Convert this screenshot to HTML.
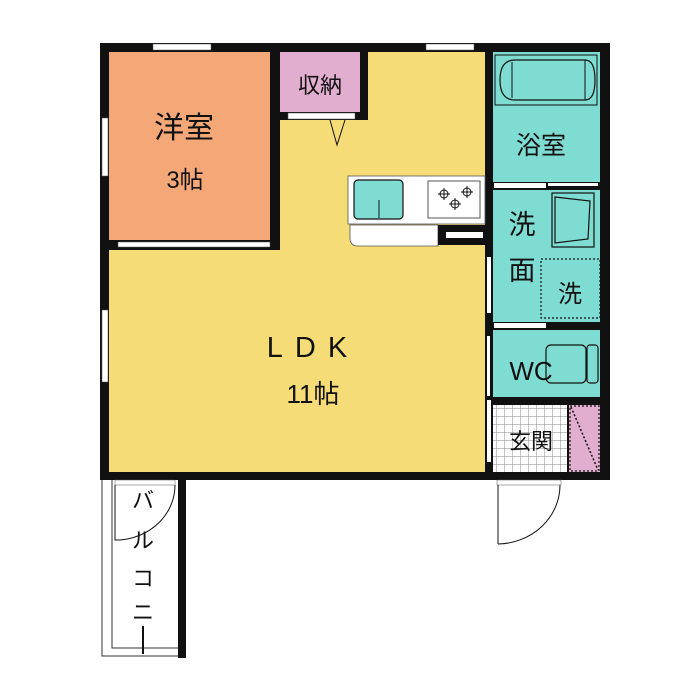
<!DOCTYPE html>
<html><head><meta charset="utf-8"><style>
html,body{margin:0;padding:0;background:#fff;width:700px;height:700px;overflow:hidden}
text{font-family:"Liberation Sans","Noto Sans CJK JP",sans-serif;fill:#111}
</style></head><body>
<svg width="700" height="700" viewBox="0 0 700 700" xmlns="http://www.w3.org/2000/svg">
<defs>
<pattern id="grid" width="8" height="8" patternUnits="userSpaceOnUse">
<rect width="8" height="8" fill="#fff"/><path d="M0 0H8M0 0V8" stroke="#888" stroke-width="1"/>
</pattern>
</defs>
<rect x="100" y="43" width="510" height="437" fill="#111"/>
<rect x="109" y="52" width="376" height="420" fill="#f6dc76"/>
<rect x="109" y="52" width="161" height="188" fill="#f4a877"/>
<rect x="270" y="52" width="10" height="198" fill="#111"/>
<rect x="109" y="240" width="171" height="10" fill="#111"/>
<rect x="118" y="242" width="152" height="5" fill="#fff" stroke="#555" stroke-width="0.5"/>
<rect x="280" y="52" width="88" height="68" fill="#111"/>
<rect x="280" y="52" width="80" height="60" fill="#e2aed0"/>
<rect x="288" y="113" width="67" height="6" fill="#fff" stroke="#555" stroke-width="0.5"/>
<path d="M330 120 L337 145 L345 120" fill="none" stroke="#111" stroke-width="1"/>
<rect x="485" y="43" width="8" height="437" fill="#111"/>
<rect x="493" y="52" width="107" height="130" fill="#7fdcd2"/>
<rect x="493" y="190" width="107" height="132" fill="#7fdcd2"/>
<rect x="493" y="330" width="107" height="67" fill="#7fdcd2"/>
<rect x="493" y="405" width="74" height="67" fill="url(#grid)"/>
<rect x="569" y="405" width="31" height="67" fill="#e2aed0"/>
<path d="M571 407 L598 470" stroke="#111" stroke-width="1.5" stroke-dasharray="2 2"/>
<rect x="570" y="406" width="29" height="65" fill="none" stroke="#111" stroke-width="1.2" stroke-dasharray="2 2"/>
<rect x="494" y="183" width="52" height="5" fill="#fff"/>
<rect x="548" y="183" width="50" height="3" fill="#fff"/>
<rect x="494" y="323" width="52" height="5" fill="#fff"/>
<rect x="487" y="257" width="4" height="56" fill="#fff"/>
<rect x="487" y="336" width="3" height="60" fill="#fff"/>
<rect x="487" y="400" width="4" height="62" fill="#fff"/>
<rect x="495" y="55" width="102" height="50" fill="none" stroke="#111" stroke-width="1"/>
<path d="M515 60 H585 Q595 60 595 80 Q595 100 585 100 H515 Q500 100 500 80 Q500 60 515 60 Z" fill="none" stroke="#111" stroke-width="1.2"/>
<path d="M512 62 V98 M585 60 V100" stroke="#111" stroke-width="1"/>
<rect x="552" y="193" width="42" height="54" fill="none" stroke="#111" stroke-width="1.2"/>
<path d="M555 197 L590 201 L588 239 L555 243 Z" fill="none" stroke="#111" stroke-width="1.2"/>
<rect x="541" y="259" width="59" height="59" fill="none" stroke="#111" stroke-width="1.2" stroke-dasharray="2 2"/>
<rect x="546" y="345" width="40" height="38" rx="5" fill="none" stroke="#111" stroke-width="1.2"/>
<rect x="587" y="345" width="11" height="38" rx="3" fill="none" stroke="#111" stroke-width="1.2"/>
<rect x="348" y="176" width="137" height="48" fill="#fff" stroke="#555" stroke-width="0.8"/>
<rect x="354" y="180" width="49" height="39" rx="4" fill="#7fdcd2" stroke="#111" stroke-width="1.2"/>
<path d="M379 200 V218" stroke="#111"/>
<rect x="428" y="181" width="52" height="37" fill="#fff" stroke="#555" stroke-width="1"/>
<g fill="none" stroke="#111" stroke-width="1">
<circle cx="444" cy="194" r="4"/><circle cx="467" cy="192" r="4"/><circle cx="455" cy="204" r="4"/>
<path d="M438 194H450M444 188V200M461 192H473M467 186V198M449 204H461M455 198V210"/>
</g>
<path d="M350 225 H438 V246 H358 Q350 246 350 238 Z" fill="#fff" stroke="#555" stroke-width="0.8"/>
<rect x="438" y="225" width="47" height="20" fill="#111"/>
<rect x="446" y="232" width="37" height="6" fill="#fff"/>
<rect x="153" y="44" width="58" height="6" fill="#fff" stroke="#555" stroke-width="0.5"/>
<rect x="426" y="44" width="48" height="6" fill="#fff" stroke="#555" stroke-width="0.5"/>
<rect x="102" y="118" width="6" height="58" fill="#fff" stroke="#555" stroke-width="0.5"/>
<rect x="102" y="310" width="6" height="72" fill="#fff" stroke="#555" stroke-width="0.5"/>
<rect x="178" y="480" width="8" height="178" fill="#111"/>
<path d="M102 480 V656 H178 M112 480 V648 H178" fill="none" stroke="#333" stroke-width="1"/>
<rect x="115" y="480" width="60" height="5" fill="#fff" stroke="#555" stroke-width="0.5"/>
<path d="M115 485 V540 H120 M175 485 A60 55 0 0 1 120 540" fill="none" stroke="#111" stroke-width="1"/>
<rect x="497" y="480" width="64" height="5" fill="#fff" stroke="#555" stroke-width="0.5"/>
<path d="M498 485 V544 M560 485 A63 59 0 0 1 498 544" fill="none" stroke="#111" stroke-width="1"/>
<text x="184" y="138" font-size="30" text-anchor="middle">洋室</text>
<text x="185" y="188" font-size="24" text-anchor="middle">3帖</text>
<text x="320" y="93" font-size="22" text-anchor="middle">収納</text>
<text x="541" y="154" font-size="25" text-anchor="middle">浴室</text>
<text x="522" y="234" font-size="27" text-anchor="middle">洗</text>
<text x="522" y="280" font-size="27" text-anchor="middle">面</text>
<text x="570" y="302" font-size="24" text-anchor="middle">洗</text>
<text x="531" y="380" font-size="26" text-anchor="middle">WC</text>
<text x="531" y="449" font-size="22" text-anchor="middle">玄関</text>
<text x="313" y="357" font-size="29" text-anchor="middle" letter-spacing="12">LDK</text>
<text x="313" y="403" font-size="26" text-anchor="middle">11帖</text>
<g font-size="22" text-anchor="middle">
<text x="143" y="508">バ</text><text x="143" y="548">ル</text><text x="143" y="586">コ</text><text x="143" y="620">ニ</text>
</g>
<path d="M143 626 V654" stroke="#111" stroke-width="2"/>
</svg>
</body></html>
